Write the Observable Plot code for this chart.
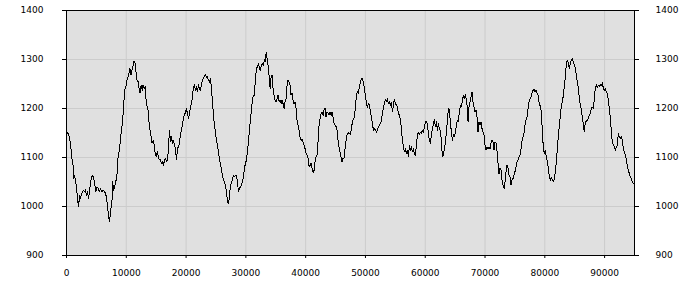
<!DOCTYPE html>
<html>
<head>
<meta charset="utf-8">
<script src="https://cdn.jsdelivr.net/npm/d3@7"></script>
<script src="https://cdn.jsdelivr.net/npm/@observablehq/plot@0.6"></script>
<style>
  html, body { margin: 0; padding: 0; background: #ffffff; }
  #chart svg { display: block; }
</style>
</head>
<body>
<div id="chart"></div>
<script>
const xTicks = [0, 10000, 20000, 30000, 40000, 50000, 60000, 70000, 80000, 90000];
const yTicks = [900, 1000, 1100, 1200, 1300, 1400];

const xA = [0,400,700,900,1100,1200,1300,1500,1700,1800,2000,2200,2300,2600,2800,3000,3200,3300,3500,3700,3900,4100,4300,4500,4700,4900,5100,5300,5500,5700,5900,6100,6400,6600,6700,6900,7100,7200,7400,7600,7700,7900,8100,8300,8500,8600,8800,9000,9100,9300,9500,9600,9800,10000,10100,10300,10500,10600,10800,11000,11100,11300,11500,11600,11800,12000,12100,12300,12500,12700,12800,13000,13200,13300,13500,13700,13800,14000,14200,14300,14500,14700,14800,15000,15200,15300,15500];
const vA = [1154,1146,1125,1098,1084,1057,1064,1054,1037,1020,999,1023,1016,1027,1033,1030,1035,1023,1030,1016,1037,1054,1063,1061,1047,1030,1040,1037,1030,1037,1030,1033,1030,1023,1016,996,975,969,993,1010,1050,1033,1044,1054,1071,1098,1112,1132,1146,1166,1193,1214,1241,1248,1258,1265,1275,1282,1268,1282,1285,1297,1292,1278,1258,1254,1244,1231,1248,1237,1248,1241,1244,1220,1203,1193,1173,1152,1139,1129,1135,1125,1112,1101,1112,1105,1095];

const xB = [15720,15880,16050,16220,16390,16550,16720,16890,17050,17220,17390,17560,17720,17890,18060,18230,18390,18560,18730,18890,19060,19230,19400,19560,19730,19900,20060,20230,20400,20570,20730,20900,21070,21230,21400,21570,21740,21900,22070,22240,22410,22570,22740,22910,23070,23240,23410,23580,23740,23910,24080,24240,24410,24580,24750,24910,25080,25250,25410,25580,25750,25920,26080,26250,26420,26590,26750,26920,27090,27250,27420,27590,27760,27920,28090,28260,28420,28590,28760,28930,29090,29260,29430,29590,29760,29930,30100,30260,30430,30600,30760,30930,31100,31270];
const vB = [1095,1088,1091,1084,1095,1098,1091,1095,1118,1156,1132,1142,1129,1135,1125,1118,1095,1118,1122,1129,1149,1156,1166,1183,1186,1193,1199,1190,1180,1190,1203,1210,1224,1244,1248,1237,1244,1234,1249,1241,1237,1251,1258,1261,1267,1269,1263,1265,1258,1254,1261,1241,1214,1186,1166,1152,1135,1125,1112,1095,1088,1074,1064,1054,1050,1044,1030,1010,1006,1020,1044,1047,1057,1064,1061,1063,1064,1050,1030,1037,1040,1044,1050,1061,1078,1088,1095,1112,1132,1156,1176,1197,1217,1227];

const xC = [31430,31600,31770,31930,32100,32270,32430,32600,32770,32940,33100,33270,33380,33550,33720,33880,34050,34220,34380,34550,34720,34890,35050,35220,35390,35550,35720,35890,36060,36220,36390,36560,36720,36890,37060,37230,37390,37560,37730,37890,38060,38230,38400,38560,38730,38900,39060,39230,39400,39570,39730,39900,40070,40240,40400,40570,40740,40900,41070,41240,41410,41570,41740,41910,42070,42240,42410,42580,42740,42910,43080,43240,43410,43580,43750,43910,44080,44250,44420,44580,44750,44920,45080,45250,45420,45580,45750,45920,46090,46250,46420,46590,46760,46920,47090,47260];
const vC = [1227,1261,1282,1285,1292,1282,1278,1288,1292,1288,1299,1295,1314,1302,1288,1268,1241,1265,1268,1241,1227,1217,1214,1220,1227,1214,1217,1210,1217,1210,1200,1214,1220,1248,1258,1254,1248,1227,1231,1217,1210,1212,1200,1176,1166,1156,1142,1135,1137,1132,1125,1118,1108,1105,1098,1081,1084,1088,1078,1069,1074,1091,1101,1105,1132,1166,1180,1190,1193,1186,1197,1200,1183,1193,1190,1186,1193,1186,1193,1183,1169,1166,1163,1156,1135,1122,1112,1101,1091,1098,1099,1118,1135,1146,1151,1149];

const xD = [47320,47490,47650,47820,47990,48160,48320,48490,48660,48820,48990,49160,49330,49490,49660,49830,49990,50160,50330,50500,50660,50830,51000,51170,51330,51500,51670,51830,52000,52170,52340,52500,52670,52840,53000,53170,53340,53510,53670,53840,54010,54180,54340,54510,54680,54840,55010,55180,55350,55510,55680,55850,56010,56180,56350,56520,56680,56850,57020,57190,57350,57520,57690,57850,58020,58190,58360,58520,58690,58860,59030,59190,59360,59530,59690,59860,60030,60200,60360,60530,60700,60870,61030,61200,61370,61530,61700,61870,62030,62200,62370,62540,62700,62870,63040];
const vD = [1149,1146,1159,1173,1178,1183,1203,1227,1234,1231,1244,1254,1261,1261,1254,1241,1227,1210,1203,1210,1207,1193,1183,1169,1156,1159,1156,1152,1156,1163,1166,1169,1176,1190,1200,1210,1219,1214,1220,1210,1214,1207,1212,1193,1207,1219,1210,1207,1203,1190,1186,1176,1159,1135,1122,1112,1118,1108,1115,1103,1125,1115,1122,1112,1118,1108,1105,1125,1146,1152,1146,1152,1149,1156,1152,1163,1173,1174,1169,1149,1135,1129,1146,1159,1169,1178,1163,1173,1156,1169,1159,1154,1135,1101,1105];

const xE = [63200,63370,63530,63700,63870,64040,64200,64370,64540,64700,64870,65040,65210,65370,65540,65710,65880,66040,66210,66380,66540,66710,66880,67050,67160,67320,67490,67660,67830,67990,68160,68330,68490,68660,68830,69000,69160,69330,69500,69670,69830,70000,70170,70330,70500,70670,70840,71000,71170,71340,71500,71670,71840,72010,72170,72340,72510,72670,72840,73010,73180,73340,73510,73680,73840,74010,74180,74350,74510,74680,74850,75010,75180,75350,75520,75680,75850,76020,76190,76350,76520,76690,76850,77020,77190,77360,77520,77690,77860,78020,78190,78360,78530,78690,78860,79030];
const vE = [1118,1129,1152,1173,1200,1197,1173,1152,1135,1146,1142,1152,1166,1176,1173,1193,1207,1203,1217,1227,1220,1229,1217,1203,1173,1203,1214,1224,1233,1214,1203,1193,1197,1183,1152,1173,1166,1173,1159,1152,1146,1125,1115,1122,1118,1122,1118,1129,1135,1132,1115,1132,1129,1112,1088,1067,1078,1074,1054,1044,1037,1050,1071,1084,1078,1064,1061,1044,1054,1057,1064,1071,1081,1091,1095,1101,1105,1118,1135,1142,1149,1166,1176,1183,1200,1214,1220,1224,1231,1237,1239,1234,1237,1231,1227,1214];

const xF = [79260,79420,79590,79760,79930,80090,80260,80430,80590,80760,80930,81100,81260,81430,81600,81770,81930,82100,82270,82430,82600,82770,82940,83100,83270,83440,83600,83770,83940,84110,84270,84440,84610,84770,84940,85110,85280,85440,85610,85780,85940,86110,86280,86450,86610,86780,86950,87110,87280,87450,87620,87780,87950,88120,88290,88450,88620,88790,88950,89120,89290,89460,89620,89790,89960,90120,90290,90460,90630,90790,90960,91130,91290,91460,91630,91800,91960,92130,92300,92460,92630,92800,92970,93130,93300,93470,93640,93800,93970,94140,94300,94470,94640,94810,94970];
const vF = [1203,1193,1152,1118,1108,1115,1101,1091,1078,1061,1054,1059,1054,1050,1057,1071,1091,1118,1146,1166,1186,1207,1214,1227,1248,1265,1292,1299,1292,1282,1292,1299,1302,1295,1288,1282,1268,1254,1241,1220,1207,1197,1183,1166,1152,1173,1174,1176,1180,1186,1190,1200,1203,1200,1220,1244,1248,1242,1248,1244,1249,1246,1253,1241,1237,1241,1234,1231,1217,1200,1180,1152,1132,1125,1122,1115,1122,1125,1149,1142,1139,1142,1135,1118,1112,1105,1095,1084,1074,1067,1061,1057,1049,1047,1045];

const segments = [[xA, vA], [xB, vB], [xC, vC], [xD, vD], [xE, vE], [xF, vF]];
const data = [];
for (const [xs, vs] of segments) {
  const n = Math.min(xs.length, vs.length);
  for (let i = 0; i < n; i++) data.push({x: xs[i], v: vs[i]});
}

const chart = Plot.plot({
  width: 700,
  height: 300,
  marginLeft: 66,
  marginRight: 66,
  marginTop: 10,
  marginBottom: 45,
  style: {background: "#ffffff", fontFamily: "DejaVu Sans, Verdana, sans-serif", fontSize: "9px", color: "#000"},
  x: {domain: [0, 95000], label: null},
  y: {domain: [900, 1400], label: null},
  marks: [
    Plot.frame({fill: "#e0e0e0", stroke: null}),
    Plot.gridX(xTicks, {stroke: "#cccccc", strokeOpacity: 1}),
    Plot.gridY(yTicks, {stroke: "#cccccc", strokeOpacity: 1}),
    Plot.line(data, {x: "x", y: "v", stroke: "#000", strokeWidth: 1, shapeRendering: "crispEdges"}),
    Plot.frame({stroke: "#000", strokeWidth: 1}),
    Plot.axisX(xTicks, {tickSize: 3, tickPadding: 11, tickFormat: d => String(d), label: null}),
    Plot.axisY(yTicks, {anchor: "left", tickSize: 4, tickPadding: 19, tickFormat: d => String(d), label: null}),
    Plot.axisY(yTicks, {anchor: "right", tickSize: 4, tickPadding: 17, tickFormat: d => String(d), label: null})
  ]
});
document.getElementById("chart").appendChild(chart);
</script>
</body>
</html>
